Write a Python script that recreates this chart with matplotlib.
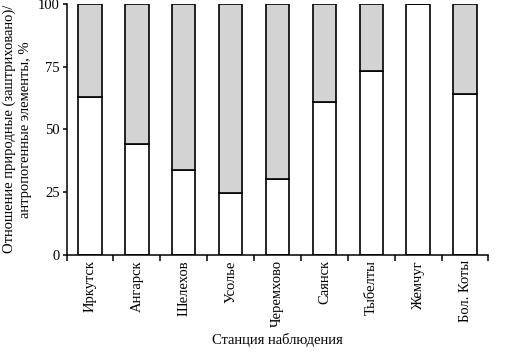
import matplotlib
matplotlib.use("Agg")
import matplotlib.pyplot as plt
import numpy as np

stations = ["Иркутск", "Ангарск", "Шелехов", "Усолье", "Черемхово",
            "Саянск", "Тыбелты", "Жемчуг", "Бол. Коты"]
natural = [63, 44, 33.7, 24.6, 30, 61, 73.3, 100, 63.9]
anthropogenic = [100 - v for v in natural]

plt.rcParams['font.family'] = ['Liberation Serif', 'DejaVu Serif']
plt.rcParams['font.size'] = 10.5

fig = plt.figure(figsize=(5.12, 3.56), dpi=100)
ax = fig.add_axes([0.13, 0.2846, 0.824, 0.7044])

x = np.arange(len(stations))
ax.bar(x, natural, width=0.5, color='white', edgecolor='black', linewidth=1.2)
ax.bar(x, anthropogenic, bottom=natural, width=0.5, color='#d3d3d3',
       edgecolor='black', linewidth=1.2)

ax.set_xlim(-0.5, len(stations) - 0.5)
ax.set_ylim(0, 100)
ax.set_yticks([0, 25, 50, 75, 100])
ax.set_xticks(np.arange(len(stations) + 1) - 0.5)
ax.set_xticklabels([])
ax.set_xticks(x, minor=True)
ax.set_xticklabels(stations, minor=True, rotation=90)
ax.tick_params(axis='x', which='minor', length=0, pad=4)
ax.tick_params(axis='x', which='major', length=4, width=1.1, direction='out')
ax.tick_params(axis='y', length=3, width=1.1, direction='out', pad=2)
for s in ['top', 'right']:
    ax.spines[s].set_visible(False)
for s in ['left', 'bottom']:
    ax.spines[s].set_linewidth(1.1)

ax.set_xlabel("Станция наблюдения", labelpad=4)
ax.set_ylabel("Отношение природные (заштриховано)/\nантропогенные элементы, %",
              labelpad=4, linespacing=1.3)

fig.savefig("out.png", dpi=100)
